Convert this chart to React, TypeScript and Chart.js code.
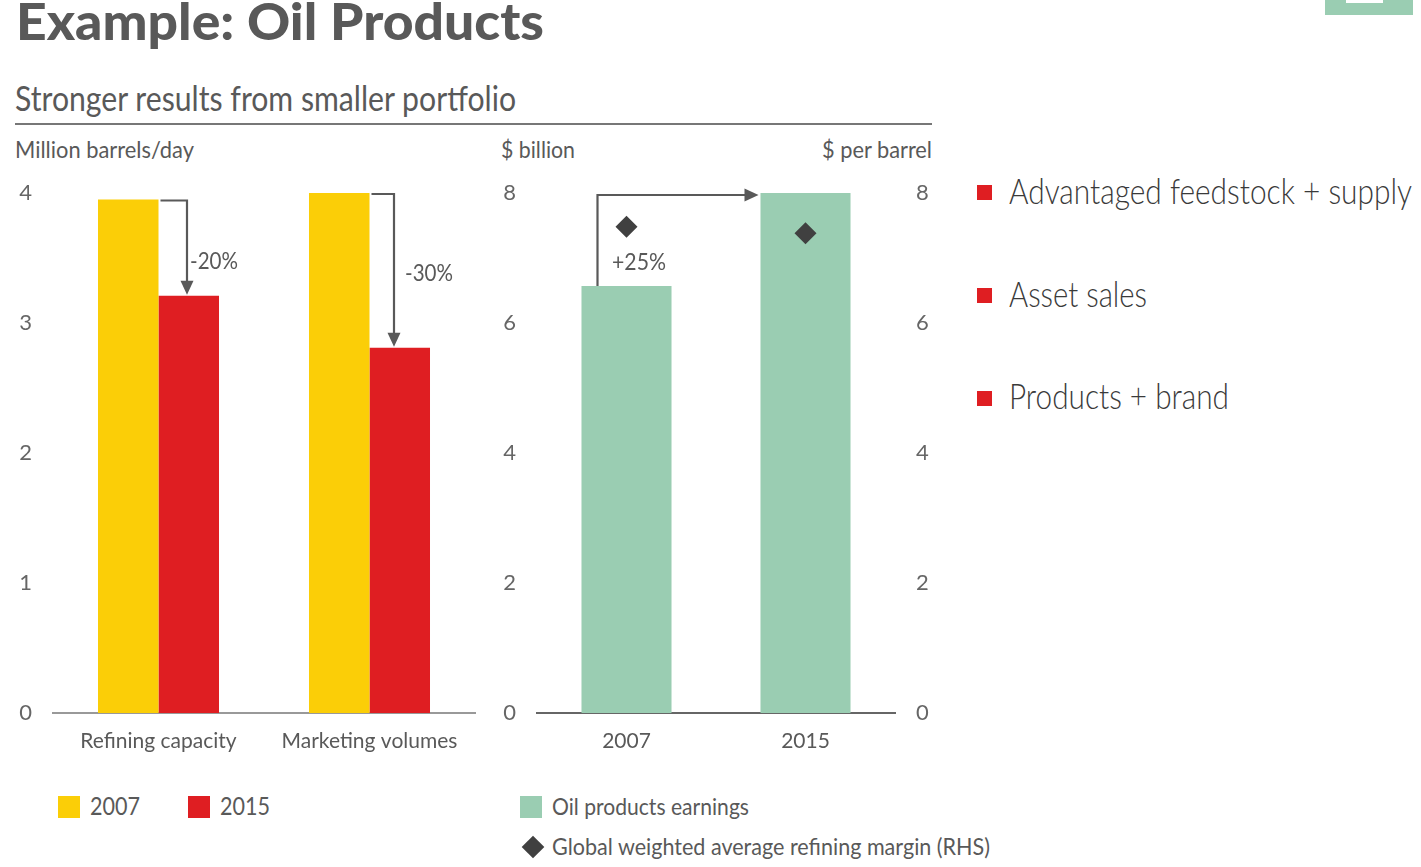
import React, { useEffect, useLayoutEffect, useRef } from "react";
import { Chart, registerables } from "chart.js";

Chart.register(...registerables);

const volumeCategories = ["Refining capacity", "Marketing volumes"];
const volumes2007 = [3.95, 4.0];
const volumes2015 = [3.21, 2.81];
const earningsCategories = ["2007", "2015"];
const earnings = [6.57, 8.0];
const refiningMargin = [7.48, 7.38];
const volumeChanges = ["-20%", "-30%"];
const earningsChange = "+25%";
const leftTicks = [0, 1, 2, 3, 4];
const rightTicks = [0, 2, 4, 6, 8];
const strategyItems = ["Advantaged feedstock + supply", "Asset sales", "Products + brand"];

const TEXT = "#595959";
const ARROW = "#595959";
const YELLOW = "#FBCE07";
const RED = "#DF1E22";
const GREEN = "#9ACDB2";
const DARK = "#404040";
const FONT = "Lato";

function Label({ text, x, y, size, width, weight = 400, color = TEXT }: any) {
  const ref = useRef<HTMLSpanElement>(null);
  useLayoutEffect(() => {
    const el = ref.current!;
    el.style.transform = "none";
    const w = el.getBoundingClientRect().width;
    el.style.transform = `scaleX(${width / w})`;
  }, [text, width]);
  return (
    <span
      ref={ref}
      style={{
        position: "absolute",
        left: x,
        top: y - size / 2,
        fontFamily: FONT,
        fontSize: size,
        fontWeight: weight,
        lineHeight: `${size}px`,
        color,
        whiteSpace: "nowrap",
        transformOrigin: "left center",
      }}
    >
      {text}
    </span>
  );
}

function Box({ x, y, w, h, c }: any) {
  return <div style={{ position: "absolute", left: x, top: y, width: w, height: h, background: c }} />;
}

function arrowHead(ctx: CanvasRenderingContext2D, x: number, y: number, dir: "down" | "right") {
  ctx.beginPath();
  if (dir === "down") {
    ctx.moveTo(x, y);
    ctx.lineTo(x - 6.5, y - 14);
    ctx.lineTo(x + 6.5, y - 14);
  } else {
    ctx.moveTo(x, y);
    ctx.lineTo(x - 14, y - 6.5);
    ctx.lineTo(x - 14, y + 6.5);
  }
  ctx.closePath();
  ctx.fill();
}

const volumeArrows = {
  id: "volumeArrows",
  afterDatasetsDraw(chart: any) {
    const { ctx, scales } = chart;
    ctx.save();
    ctx.strokeStyle = ARROW;
    ctx.fillStyle = ARROW;
    ctx.lineWidth = 2.2;
    const offsets = [28.5, 24.5];
    volumeCategories.forEach((_, i) => {
      const c = scales.x.getPixelForValue(i);
      const ax = c + offsets[i];
      const y0 = scales.y.getPixelForValue(volumes2007[i]);
      const y1 = scales.y.getPixelForValue(volumes2015[i]);
      ctx.beginPath();
      ctx.moveTo(c + 2, y0 + 1);
      ctx.lineTo(ax, y0 + 1);
      ctx.lineTo(ax, y1 - 8);
      ctx.stroke();
      arrowHead(ctx, ax, y1 - 1, "down");
    });
    ctx.restore();
  },
};

const earningsArrow = {
  id: "earningsArrow",
  afterDatasetsDraw(chart: any) {
    const { ctx, scales } = chart;
    ctx.save();
    ctx.strokeStyle = ARROW;
    ctx.fillStyle = ARROW;
    ctx.lineWidth = 2.2;
    const ax = scales.x.getPixelForValue(0) - 29;
    const y0 = scales.y.getPixelForValue(earnings[0]);
    const y1 = scales.y.getPixelForValue(earnings[1]) + 2;
    const tip = scales.x.getPixelForValue(1) - 47;
    ctx.beginPath();
    ctx.moveTo(ax, y0);
    ctx.lineTo(ax, y1);
    ctx.lineTo(tip - 8, y1);
    ctx.stroke();
    arrowHead(ctx, tip, y1, "right");
    ctx.restore();
  },
};

const tickFont = { family: FONT, size: 22, weight: 400 as any };
const catFont = { family: FONT, size: 21, weight: 400 as any };

const fitY = (w: number) => (s: any) => {
  s.width = w;
  s.paddingTop = 0;
  s.paddingBottom = 0;
};

export default function App() {
  const leftRef = useRef<HTMLCanvasElement>(null);
  const rightRef = useRef<HTMLCanvasElement>(null);

  useEffect(() => {
    const left = new Chart(leftRef.current!, {
      type: "bar",
      data: {
        labels: volumeCategories,
        datasets: [
          { label: "2007", data: volumes2007, backgroundColor: YELLOW, categoryPercentage: 0.5735, barPercentage: 1 },
          { label: "2015", data: volumes2015, backgroundColor: RED, categoryPercentage: 0.5735, barPercentage: 1 },
        ],
      },
      options: {
        animation: false,
        responsive: false,
        layout: { padding: { top: 23, right: 5, left: 0, bottom: 0 } },
        plugins: { legend: { display: false }, tooltip: { enabled: false } },
        scales: {
          x: {
            grid: { display: false },
            border: { color: "#999999", width: 2 },
            ticks: { color: TEXT, font: catFont, padding: 8, maxRotation: 0, autoSkip: false },
            afterFit: (s: any) => { s.height = 57; },
          },
          y: {
            min: 0,
            max: 4,
            grid: { display: false, drawTicks: false },
            border: { display: false },
            afterBuildTicks: (s: any) => { s.ticks = leftTicks.map((value) => ({ value })); },
            ticks: { color: "#666666", font: tickFont, padding: 21 },
            afterFit: fitY(53),
          },
        },
      },
      plugins: [volumeArrows],
    } as any);

    const right = new Chart(rightRef.current!, {
      type: "bar",
      data: {
        labels: earningsCategories,
        datasets: [
          {
            type: "line",
            label: "Global weighted average refining margin (RHS)",
            data: refiningMargin,
            yAxisID: "y1",
            showLine: false,
            pointStyle: "rectRot",
            pointRadius: 11,
            pointBackgroundColor: DARK,
            pointBorderWidth: 0,
            order: 0,
          },
          {
            label: "Oil products earnings",
            data: earnings,
            yAxisID: "y",
            backgroundColor: GREEN,
            categoryPercentage: 0.503,
            barPercentage: 1,
            order: 1,
          },
        ],
      },
      options: {
        animation: false,
        responsive: false,
        layout: { padding: { top: 23, right: 0, left: 0, bottom: 0 } },
        plugins: { legend: { display: false }, tooltip: { enabled: false } },
        scales: {
          x: {
            grid: { display: false },
            border: { color: "#666666", width: 2 },
            ticks: { color: TEXT, font: catFont, padding: 8, maxRotation: 0, autoSkip: false },
            afterFit: (s: any) => { s.height = 57; },
          },
          y: {
            position: "left",
            min: 0,
            max: 8,
            grid: { display: false, drawTicks: false },
            border: { display: false },
            afterBuildTicks: (s: any) => { s.ticks = rightTicks.map((value) => ({ value })); },
            ticks: { color: "#666666", font: tickFont, padding: 21 },
            afterFit: fitY(47),
          },
          y1: {
            position: "right",
            min: 0,
            max: 8,
            grid: { display: false, drawTicks: false },
            border: { display: false },
            afterBuildTicks: (s: any) => { s.ticks = rightTicks.map((value) => ({ value })); },
            ticks: { color: "#666666", font: tickFont, padding: 21 },
            afterFit: fitY(50),
          },
        },
      },
      plugins: [earningsArrow],
    } as any);

    return () => {
      left.destroy();
      right.destroy();
    };
  }, []);

  return (
    <div style={{ position: "absolute", left: 0, top: 0, width: 1421, height: 867, overflow: "hidden", background: "#fff" }}>
      <Box x={1325} y={0} w={88} h={15} c={GREEN} />
      <Box x={1346} y={0} w={37} h={3} c="#ffffff" />

      <Label text="Example: Oil Products" x={16} y={20} size={52} width={528} weight={900} />
      <Label text="Stronger results from smaller portfolio" x={15} y={97} size={35} width={501} />
      <Box x={15} y={123} w={917} h={2} c="#777777" />
      <Label text="Million barrels/day" x={15} y={149} size={24} width={179} />
      <Label text="$ billion" x={501} y={149} size={24} width={74} />
      <Label text="$ per barrel" x={822} y={149} size={24} width={110} />

      <canvas ref={leftRef} width={480} height={600} style={{ position: "absolute", left: 0, top: 170, display: "block" }} />
      <canvas ref={rightRef} width={455} height={600} style={{ position: "absolute", left: 490, top: 170, display: "block" }} />

      <Label text={volumeChanges[0]} x={190} y={260} size={24} width={48} />
      <Label text={volumeChanges[1]} x={405} y={272} size={24} width={48} />
      <Label text={earningsChange} x={612} y={261} size={24} width={54} />

      {strategyItems.map((t, i) => (
        <React.Fragment key={t}>
          <Box x={977} y={185 + i * 103} w={15} h={15} c={RED} />
        </React.Fragment>
      ))}
      <Label text={strategyItems[0]} x={1009} y={190} size={35} width={403} weight={300} color="#3a3a3a" />
      <Label text={strategyItems[1]} x={1009} y={293} size={35} width={138} weight={300} color="#3a3a3a" />
      <Label text={strategyItems[2]} x={1009} y={395} size={35} width={220} weight={300} color="#3a3a3a" />

      <Box x={58} y={796} w={22} h={22} c={YELLOW} />
      <Label text="2007" x={90} y={805} size={25} width={50} />
      <Box x={188} y={796} w={22} h={22} c={RED} />
      <Label text="2015" x={220} y={805} size={25} width={50} />
      <Box x={520} y={796} w={22} h={22} c={GREEN} />
      <Label text="Oil products earnings" x={552} y={806} size={24} width={197} />
      <div style={{ position: "absolute", left: 525, top: 839, width: 16, height: 16, background: DARK, transform: "rotate(45deg)" }} />
      <Label text="Global weighted average refining margin (RHS)" x={552} y={846} size={24} width={438} />
    </div>
  );
}
